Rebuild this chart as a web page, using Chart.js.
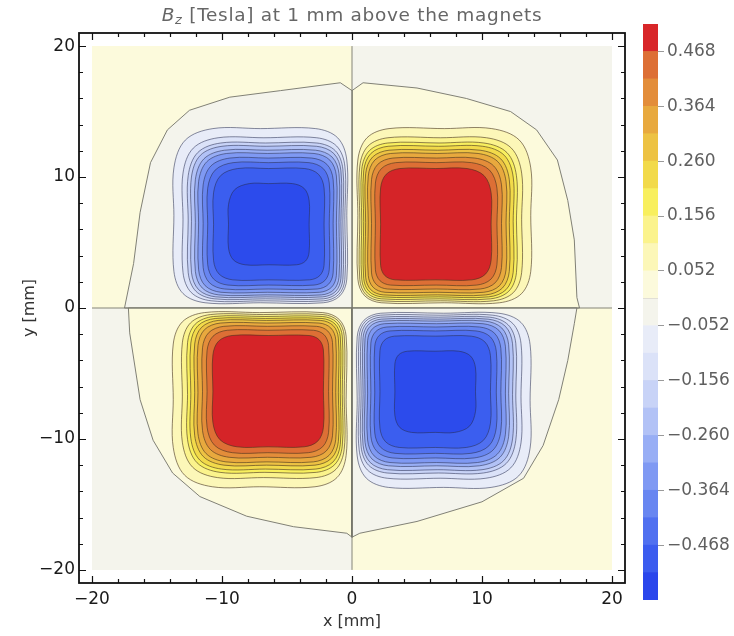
<!DOCTYPE html>
<html><head><meta charset="utf-8">
<script src="https://cdn.jsdelivr.net/npm/chart.js@4.4.1/dist/chart.umd.min.js"></script>
<style>
html,body{margin:0;padding:0;background:#fff;}
#wrap{position:relative;width:734px;height:636px;overflow:hidden;background:#fff;}
#main{position:absolute;left:0;top:0;}
#cbar{position:absolute;left:643px;top:0;}
#title{position:absolute;left:0;width:704px;text-align:center;top:4px;font-family:'DejaVu Sans';font-size:18.5px;color:#666;letter-spacing:0.7px;white-space:nowrap;}
#title sub{font-size:13px;vertical-align:-3px;line-height:0;}
</style></head><body>
<div id="wrap">
<canvas id="main" width="734" height="636"></canvas>
<canvas id="cbar" width="91" height="636"></canvas>
<div id="title"><i>B</i><sub><i>z</i></sub> [Tesla] at 1 mm above the magnets</div>
</div>
<script>
// ---------- data ----------
const axisTicks = [-20, -10, 0, 10, 20];
const frameTicks = [-20, -18, -16, -14, -12, -10, -8, -6, -4, -2, 0, 2, 4, 6, 8, 10, 12, 14, 16, 18, 20];
const plotRange = [-20, 20];

// contour levels (Tesla)
const posLevels = [0.052, 0.104, 0.156, 0.208, 0.260, 0.312, 0.364, 0.416, 0.468];
const negLevels = [-0.052, -0.104, -0.156, -0.208, -0.260, -0.312, -0.364, -0.416, -0.468, -0.520];
const posFill = ['#fcf7b8', '#fbf38c', '#f8ef5e', '#f2da4a', '#edc243', '#e8a93e', '#e38d3a', '#dd6f35', '#d52428'];
const negFill = ['#e8ecf8', '#dbe2f8', '#c8d3f7', '#b2c2f6', '#98aef5', '#7f99f3', '#6886f1', '#5070f0', '#3b5eef', '#2c4bec'];

// lobe centres [mm] and sign
const lobeX = [6.45, -6.4, -6.45, 6.4];
const lobeY = [6.4, 6.4, -6.35, -6.4];
const lobeSign = [1, -1, 1, -1];
// distance of each level's contour from the lobe centre [mm]: away from axes / towards axes
const outerReach = [7.3, 6.6, 6.2, 5.95, 5.65, 5.4, 5.05, 4.7, 4.25, 3.1];
const innerReach = [6.0, 5.85, 5.7, 5.55, 5.4, 5.2, 4.95, 4.65, 4.25, 3.1];
const cornerRadius = [3.0, 2.7, 2.5, 2.35, 2.25, 2.15, 2.05, 1.95, 1.85, 1.6];

// zero-level contour per quadrant [x, y] mm
const zeroTR = [[0,16.6],[0.85,17.2],[5,16.8],[8.8,16.0],[12.2,15.0],[14.2,13.6],[15.8,11.3],[16.6,8.2],[17.1,5.2],[17.3,0.8],[17.5,0]];
const zeroTL = [[0,16.6],[-0.9,17.2],[-5.5,16.6],[-9.4,16.1],[-12.5,15.1],[-14.2,13.6],[-15.5,11.1],[-16.3,7.3],[-16.8,3.4],[-17.5,0]];
const zeroBL = [[0,-17.5],[-0.4,-17.2],[-4.5,-16.7],[-8.1,-15.9],[-11.7,-14.4],[-13.8,-12.6],[-15.3,-10.1],[-16.3,-7.0],[-17.1,-1.9],[-17.2,0]];
const zeroBR = [[0,-17.5],[0.6,-17.2],[5,-16.3],[10,-14.8],[13.2,-13],[14.7,-10.5],[15.9,-7],[16.6,-4],[17.1,-1.2],[17.3,0]];
const quadOuterFill = ['#f4f4ec', '#fcfadc', '#f4f4ec', '#fcfadc']; // TR, TL, BL, BR
const quadInnerFill = ['#fcfadc', '#f4f4ec', '#fcfadc', '#f4f4ec'];
const quadSx = [1, -1, -1, 1];
const quadSy = [1, 1, -1, -1];

// colour bar
const barEdges = [-0.572, -0.520, -0.468, -0.416, -0.364, -0.312, -0.260, -0.208, -0.156, -0.104, -0.052, 0, 0.052, 0.104, 0.156, 0.208, 0.260, 0.312, 0.364, 0.416, 0.468, 0.520];
const barColors = ['#2a46ec', '#3b5cef', '#5070f0', '#6886f1', '#7f99f3', '#98aef5', '#b2c2f6', '#c8d3f7', '#dbe2f8', '#e8ecf8', '#f4f4ec', '#fcfadc', '#fcf7b8', '#fbf38c', '#f8ef5e', '#f2da4a', '#edc243', '#e8a93e', '#e38d3a', '#dd6f35', '#d82629'];
const barLabels = [-0.468, -0.364, -0.260, -0.156, -0.052, 0.052, 0.156, 0.260, 0.364, 0.468];

// ---------- build datasets ----------
Chart.defaults.font.family = "'DejaVu Sans', sans-serif";
const fmtNum = v => (v < 0 ? '\u2212' : '') + String(Math.abs(v));
const datasets = [];
function addPoly(pts, fillColor, lineColor, lineWidth, tension) {
  datasets.push({
    data: pts.map(p => ({x: p[0], y: p[1]})),
    showLine: true,
    fill: fillColor ? 'shape' : false,
    backgroundColor: fillColor || 'rgba(0,0,0,0)',
    borderColor: lineColor,
    borderWidth: lineWidth,
    pointRadius: 0, pointHoverRadius: 0, pointHitRadius: 0,
    tension: tension
  });
}
// quadrant backgrounds and zero contours
const zeroCurves = [zeroTR, zeroTL, zeroBL, zeroBR];
for (let q = 0; q < 4; q++) {
  const ex = plotRange[1] * quadSx[q], ey = plotRange[1] * quadSy[q];
  addPoly([[0,0],[ex,0],[ex,ey],[0,ey],[0,0]], quadOuterFill[q], 'rgba(0,0,0,0)', 0, 0);
}
for (let q = 0; q < 4; q++) {
  addPoly([[0,0]].concat(zeroCurves[q]).concat([[0,0]]), quadInnerFill[q], 'rgba(115,115,105,0.9)', 1, 0);
}
// lobes
const K = 1 - Math.SQRT1_2;
function roundedBox(x0, x1, y0, y1, rTR, rTL, rBL, rBR) {
  const xm = (x0 + x1) / 2, ym = (y0 + y1) / 2;
  return [
    [x1, ym], [x1, y1 - rTR], [x1 - K*rTR, y1 - K*rTR], [x1 - rTR, y1],
    [xm, y1], [x0 + rTL, y1], [x0 + K*rTL, y1 - K*rTL], [x0, y1 - rTL],
    [x0, ym], [x0, y0 + rBL], [x0 + K*rBL, y0 + K*rBL], [x0 + rBL, y0],
    [xm, y0], [x1 - rBR, y0], [x1 - K*rBR, y0 + K*rBR], [x1, y0 + rBR], [x1, ym]
  ];
}
for (let L = 0; L < 4; L++) {
  const cx = lobeX[L], cy = lobeY[L];
  const sx = Math.sign(cx), sy = Math.sign(cy);
  const levels = lobeSign[L] > 0 ? posLevels : negLevels;
  const fills = lobeSign[L] > 0 ? posFill : negFill;
  for (let k = 0; k < levels.length; k++) {
    const xo = cx + sx * outerReach[k], xi = cx - sx * innerReach[k];
    const yo = cy + sy * outerReach[k], yi = cy - sy * innerReach[k];
    const x0 = Math.min(xo, xi), x1 = Math.max(xo, xi);
    const y0 = Math.min(yo, yi), y1 = Math.max(yo, yi);
    const r = cornerRadius[k];
    const rad = (px, py) => {
      const outX = (px === xo), outY = (py === yo);
      return r * (outX && outY ? 1 : (outX || outY ? 0.8 : 0.6));
    };
    const pts = roundedBox(x0, x1, y0, y1, rad(x1, y1), rad(x0, y1), rad(x0, y0), rad(x1, y0));
    const lc = lobeSign[L] > 0 ? 'rgba(70,50,30,0.6)' : 'rgba(40,45,80,0.55)';
    addPoly(pts, fills[k], lc, 1, 0.35);
  }
}
// zero lines along the axes
addPoly([[plotRange[0],0],[plotRange[1],0]], null, 'rgba(120,120,110,0.9)', 1, 0);
addPoly([[0,plotRange[0]],[0,plotRange[1]]], null, 'rgba(120,120,110,0.9)', 1, 0);
datasets.forEach((d, i) => d.order = datasets.length - i);

const framePlugin = {
  id: 'framePlugin',
  afterDraw(chart) {
    const {ctx, chartArea: a, scales: {x, y}} = chart;
    ctx.save();
    ctx.strokeStyle = '#111';
    ctx.lineWidth = 1.2;
    ctx.beginPath();
    frameTicks.forEach(v => {
      const len = (v % 10 === 0) ? 7 : 4;
      const px = Math.round(x.getPixelForValue(v)) + 0.5;
      ctx.moveTo(px, a.bottom); ctx.lineTo(px, a.bottom - len);
      ctx.moveTo(px, a.top); ctx.lineTo(px, a.top + len);
      const py = Math.round(y.getPixelForValue(v)) + 0.5;
      ctx.moveTo(a.left, py); ctx.lineTo(a.left + len, py);
      ctx.moveTo(a.right, py); ctx.lineTo(a.right - len, py);
    });
    ctx.stroke();
    ctx.lineWidth = 1.8;
    ctx.strokeRect(a.left, a.top, a.right - a.left, a.bottom - a.top);
    ctx.restore();
  }
};

new Chart(document.getElementById('main'), {
  type: 'scatter',
  data: {datasets},
  options: {
    responsive: false, animation: false, devicePixelRatio: 1,
    layout: {padding: {left: 0, right: 109, top: 33, bottom: 0}},
    plugins: {legend: {display: false}, tooltip: {enabled: false}},
    scales: {
      x: {
        type: 'linear', min: -21, max: 21, position: 'bottom',
        afterBuildTicks: s => { s.ticks = axisTicks.map(v => ({value: v})); },
        afterFit: s => { s.height = 53; },
        grid: {display: false, drawTicks: false}, border: {display: false},
        ticks: {callback: v => fmtNum(v), color: '#1a1a1a', font: {size: 17}, padding: 6, maxRotation: 0, autoSkip: false},
        title: {display: true, text: 'x [mm]', color: '#333', font: {size: 16}, padding: {top: 0, bottom: 5}}
      },
      y: {
        type: 'linear', min: -21, max: 21,
        afterBuildTicks: s => { s.ticks = axisTicks.map(v => ({value: v})); },
        afterFit: s => { s.width = 79; },
        grid: {display: false, drawTicks: false}, border: {display: false},
        ticks: {callback: v => fmtNum(v), color: '#1a1a1a', font: {size: 17}, padding: 4, autoSkip: false},
        title: {display: true, text: 'y [mm]', color: '#333', font: {size: 16}, padding: {top: 20, bottom: 0}}
      }
    }
  },
  plugins: [framePlugin]
});

// ---------- colour bar ----------
const isLabelled = v => barLabels.some(b => Math.abs(b - v) < 1e-6);
new Chart(document.getElementById('cbar'), {
  type: 'bar',
  data: {
    labels: [''],
    datasets: barColors.map((c, i) => ({
      data: [[barEdges[i], barEdges[i + 1]]],
      backgroundColor: c, borderWidth: 0,
      barPercentage: 1, categoryPercentage: 1, grouped: false
    }))
  },
  options: {
    responsive: false, animation: false, devicePixelRatio: 1,
    layout: {padding: {left: 0, right: 0, top: 24, bottom: 36}},
    plugins: {legend: {display: false}, tooltip: {enabled: false}},
    scales: {
      x: {display: false},
      y: {
        position: 'right', min: barEdges[0], max: barEdges[barEdges.length - 1], z: 1,
        afterBuildTicks: s => { s.ticks = barEdges.map(v => ({value: v})); },
        afterFit: s => { s.width = 76; },
        border: {display: false},
        grid: {
          drawOnChartArea: true, tickLength: 6, lineWidth: 1,
          color: c => (c.index === 0 || c.index === barEdges.length - 1) ? 'rgba(0,0,0,0)' : 'rgba(90,70,50,0.35)',
          tickColor: c => isLabelled(c.tick.value) ? '#9a9a9a' : 'rgba(0,0,0,0)'
        },
        ticks: {
          padding: 3, color: '#5f5f5f', font: {size: 17}, autoSkip: false,
          callback: v => isLabelled(v) ? ((v < 0 ? '\u2212' : '') + Math.abs(v).toFixed(3)) : ''
        }
      }
    }
  }
});
</script>
</body></html>
